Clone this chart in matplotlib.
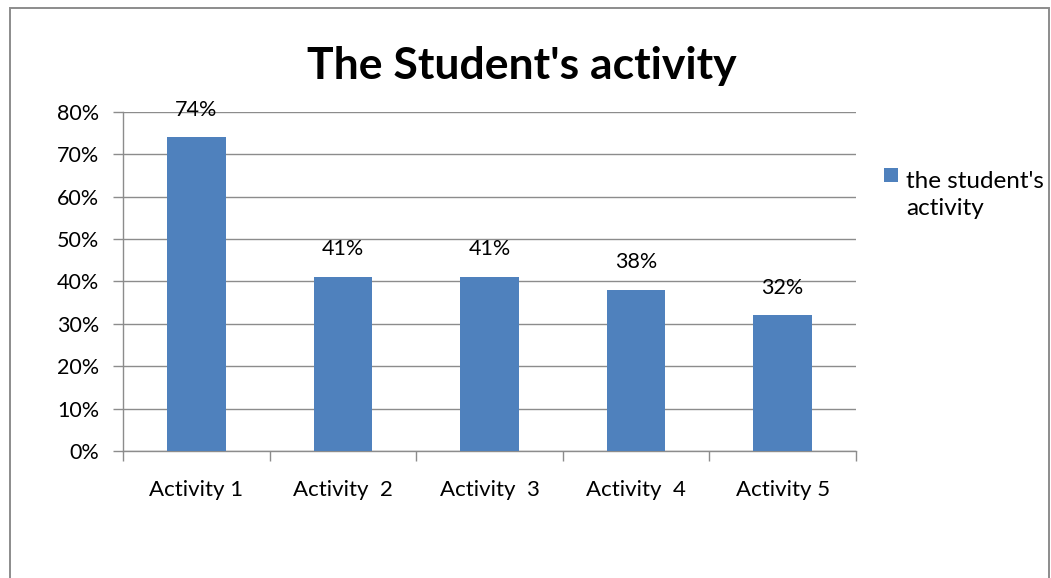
import matplotlib.pyplot as plt
from matplotlib.patches import Rectangle
from matplotlib.ticker import FuncFormatter, FixedLocator

categories = ["Activity 1", "Activity  2", "Activity  3", "Activity  4", "Activity 5"]
values = [74, 41, 41, 38, 32]
series_name = "the student's\nactivity"
bar_color = '#4f81bd'

plt.rcParams['font.family'] = ['Lato', 'DejaVu Sans']

fig = plt.figure(figsize=(10.51, 5.78), dpi=100)
ax = fig.add_axes([0.117, 0.2197, 0.6975, 0.5866])

# outer chart frame
fig.patches.append(Rectangle((10 / 1051, -0.1), 1039 / 1051, 1.1 - 8 / 578,
                             transform=fig.transFigure, fill=False,
                             edgecolor='#8c8c8c', linewidth=1.4))

x = range(len(categories))
bars = ax.bar(x, values, width=0.4, color=bar_color, zorder=3)
for rect, v in zip(bars, values):
    ax.annotate(f"{v}%", (rect.get_x() + rect.get_width() / 2, v),
                xytext=(0, 20), textcoords='offset points',
                ha='center', va='center', fontsize=15.5)

ax.set_ylim(0, 80)
ax.set_xlim(-0.5, len(categories) - 0.5)
ax.set_yticks(range(0, 81, 10))
ax.yaxis.set_major_formatter(FuncFormatter(lambda v, p: f"{v:.0f}%"))
ax.grid(axis='y', color='#8c8c8c', linewidth=1.0, zorder=0)

ax.set_xticks(list(x))
ax.set_xticklabels(categories)
ax.xaxis.set_minor_locator(FixedLocator([i - 0.5 for i in range(len(categories) + 1)]))
ax.tick_params(axis='x', which='major', length=0, pad=21, labelsize=16)
ax.tick_params(axis='x', which='minor', length=7, color='#8c8c8c', width=1.0)
ax.tick_params(axis='y', length=7, color='#8c8c8c', width=1.0, pad=10, labelsize=15.5)

for side in ['top', 'right']:
    ax.spines[side].set_visible(False)
for side in ['left', 'bottom']:
    ax.spines[side].set_color('#8c8c8c')
    ax.spines[side].set_linewidth(1.0)

fig.text(522 / 1051, 1 - 66 / 578, "The Student's activity", ha='center', va='center',
         fontsize=32, fontweight='bold')

# legend: swatch beside the first line of a two-line label
# (baseline alignment of multi-line text goes by the last line)
fig.patches.append(Rectangle((884 / 1051, 1 - 182 / 578), 14 / 1051, 14 / 578,
                             transform=fig.transFigure, facecolor=bar_color,
                             edgecolor='none'))
fig.text(906 / 1051, 1 - 215 / 578, series_name, ha='left', va='baseline',
         fontsize=17.5, linespacing=1.36)

fig.savefig('out.png', dpi=100)
